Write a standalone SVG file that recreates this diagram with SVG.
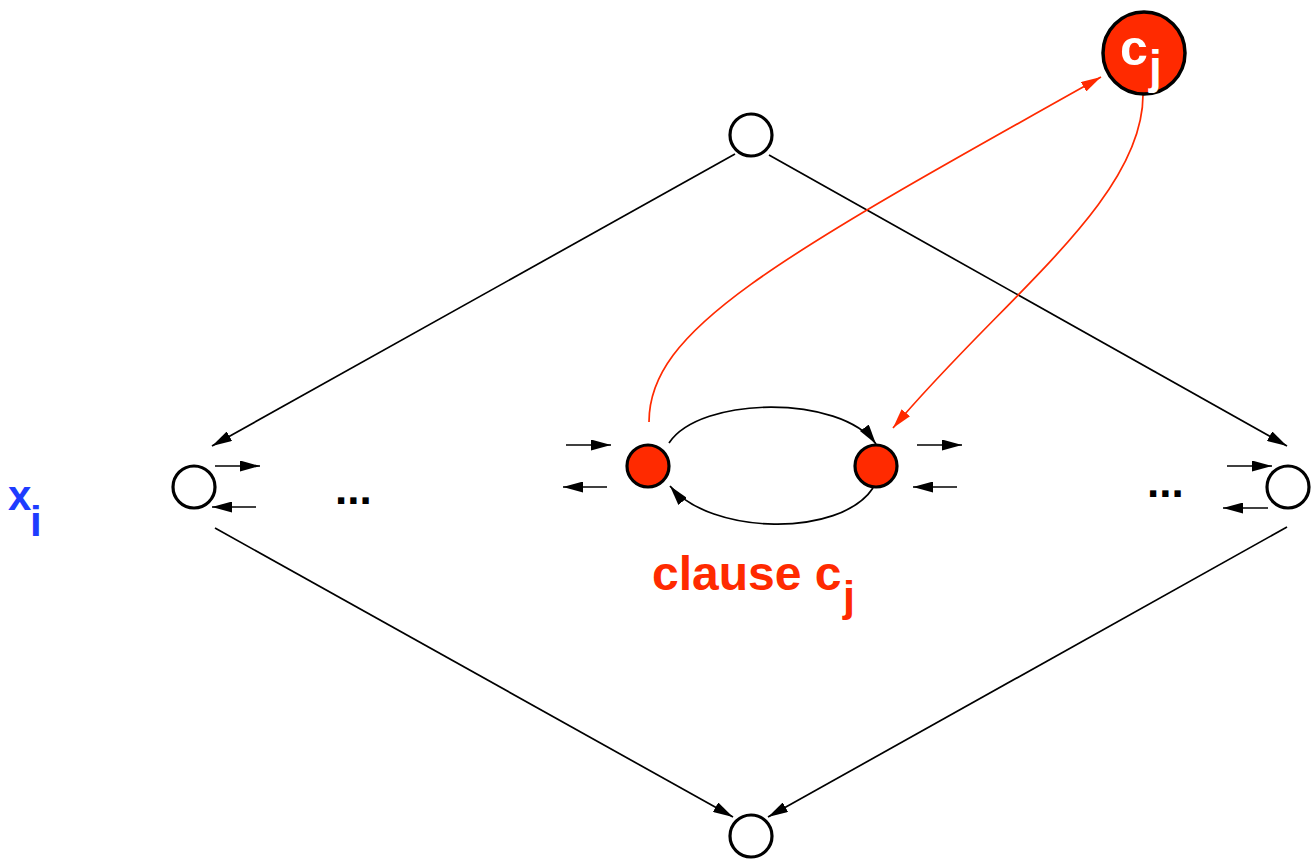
<svg xmlns="http://www.w3.org/2000/svg" width="1315" height="859" viewBox="0 0 1315 859">
<style>
.n{fill:#fff;stroke:#000;stroke-width:3.2}
.r{fill:#FF2A00;stroke:#000;stroke-width:3.2}
.e{fill:none;stroke:#000;stroke-width:1.7}
.er{fill:none;stroke:#FF2A00;stroke-width:1.7}
.t{font-family:"Liberation Sans",Arial,sans-serif;font-weight:bold}
</style>
<defs>
<marker id="ah" viewBox="0 0 20 11" refX="20" refY="5.5" markerWidth="20" markerHeight="11" markerUnits="userSpaceOnUse" orient="auto"><path d="M0,0 L20,5.5 L0,11 z" fill="#000"/></marker>
<marker id="ahr" viewBox="0 0 20 11" refX="20" refY="5.5" markerWidth="20" markerHeight="11" markerUnits="userSpaceOnUse" orient="auto"><path d="M0,0 L20,5.5 L0,11 z" fill="#FF2A00"/></marker>
</defs>
<rect width="1315" height="859" fill="#fff"/>
<g id="connectors">
<line class="e" x1="735" y1="154" x2="212" y2="446" marker-end="url(#ah)"/>
<line class="e" x1="769" y1="155" x2="1287" y2="446" marker-end="url(#ah)"/>
<line class="e" x1="215" y1="528" x2="733" y2="817" marker-end="url(#ah)"/>
<line class="e" x1="1287" y1="527" x2="768" y2="817" marker-end="url(#ah)"/>
<line class="e" x1="215" y1="466" x2="260" y2="466" marker-end="url(#ah)"/>
<line class="e" x1="256" y1="507" x2="212" y2="507" marker-end="url(#ah)"/>
<line class="e" x1="1227" y1="466" x2="1272" y2="466" marker-end="url(#ah)"/>
<line class="e" x1="1268" y1="508" x2="1223" y2="508" marker-end="url(#ah)"/>
<line class="e" x1="566" y1="445" x2="611" y2="445" marker-end="url(#ah)"/>
<line class="e" x1="607" y1="487" x2="563" y2="487" marker-end="url(#ah)"/>
<line class="e" x1="917" y1="445" x2="962" y2="445" marker-end="url(#ah)"/>
<line class="e" x1="957" y1="487" x2="913" y2="487" marker-end="url(#ah)"/>
<path class="e" d="M669,443 C700,396 840,394 876,444" marker-end="url(#ah)"/>
<path class="e" d="M873,488 C840,538 710,535 670,486" marker-end="url(#ah)"/>
<path class="er" d="M649,422 C649,330 770,262 1101,77" marker-end="url(#ahr)"/>
<path class="er" d="M1143,95 C1143,200 1000,300 893,428" marker-end="url(#ahr)"/>
</g>
<g id="top"><circle class="n" cx="751" cy="135" r="21"/></g>
<g id="bottom"><circle class="n" cx="751" cy="836" r="21"/></g>
<g id="left"><circle class="n" cx="194" cy="487" r="21"/></g>
<g id="right"><circle class="n" cx="1288" cy="487" r="21"/></g>
<g id="red1"><circle class="r" cx="648" cy="466" r="21"/></g>
<g id="red2"><circle class="r" cx="876" cy="466" r="21"/></g>
<g id="cj"><circle cx="1144" cy="53" r="41" fill="#FF2A00" stroke="#000" stroke-width="3.5"/>
<text class="t" x="1120" y="65" font-size="50" fill="#fff">c</text>
<text class="t" x="1149" y="83" font-size="46" fill="#fff">j</text>
</g>
<g id="labels">
<text class="t" x="8" y="510" font-size="42" fill="#1E3CFF">x</text>
<text class="t" x="30" y="536" font-size="42" fill="#1E3CFF">i</text>
<text class="t" x="335" y="504" font-size="44" fill="#000">...</text>
<text class="t" x="1147" y="497" font-size="44" fill="#000">...</text>
<text class="t" x="652" y="590" font-size="48" fill="#FF2A00">clause c</text>
<text class="t" x="843" y="611" font-size="43" fill="#FF2A00">j</text>
</g>
</svg>
